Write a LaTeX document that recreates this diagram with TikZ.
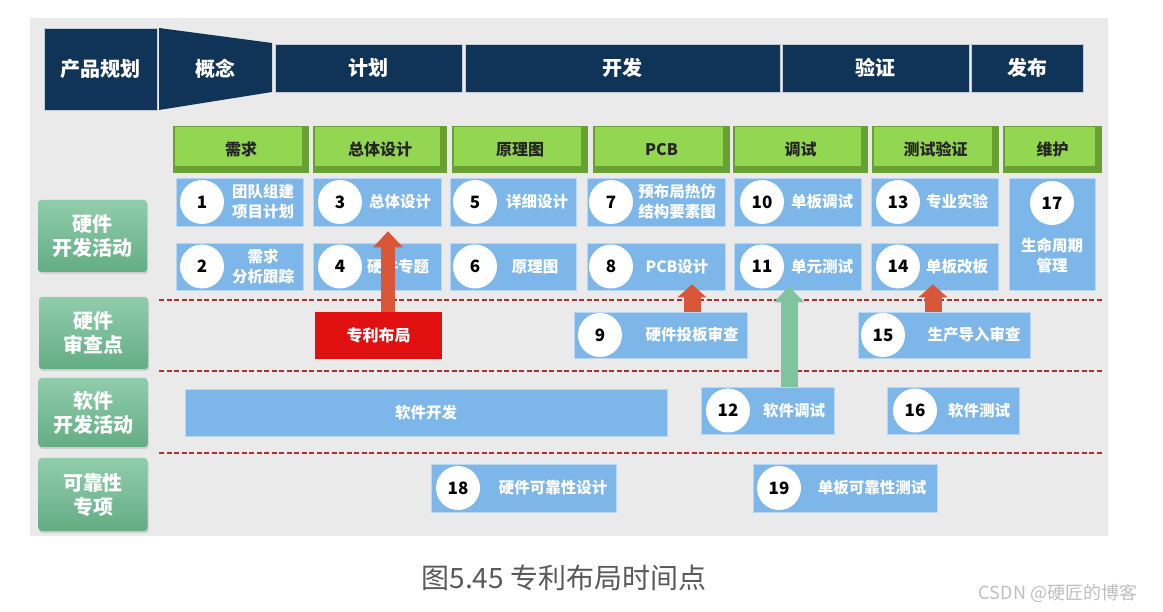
\documentclass[tikz,border=0pt]{standalone}
\usepackage{fontspec}
\setmainfont{Noto Sans CJK SC}
\usetikzlibrary{arrows.meta,shadows}
\definecolor{navy}{RGB}{16,52,87}
\definecolor{bgpanel}{RGB}{234,234,234}
\definecolor{gdark}{RGB}{104,160,50}
\definecolor{glight}{RGB}{146,214,82}
\definecolor{bluebox}{RGB}{125,183,234}
\definecolor{labgreen}{RGB}{108,188,144}
\definecolor{redbox}{RGB}{224,16,16}
\definecolor{arrred}{RGB}{217,86,56}
\definecolor{arrgreen}{RGB}{128,196,158}
\definecolor{dashred}{RGB}{176,48,48}
\begin{document}
\begin{tikzpicture}[x=1pt,y=-1pt,
  navybox/.style={fill=navy, draw=white!75!navy, line width=0.8pt, text=white,
    font=\bfseries\fontsize{20}{24}\selectfont, inner sep=0pt},
  navytext/.style={text=white, font=\bfseries\fontsize{20}{24}\selectfont, inner sep=0pt},
  phasebox/.style={fill=gdark, inner sep=0pt, text=black!85,
    font=\bfseries\fontsize{16}{19}\selectfont,
    path picture={\fill[glight] ([shift={(2pt,-1pt)}]path picture bounding box.north west)
      rectangle ([shift={(-7pt,7pt)}]path picture bounding box.south east);}},
  actbox/.style={fill=bluebox, draw=bluebox!55!white, line width=0.7pt, inner sep=0pt},
  numc/.style={circle, fill=white, minimum size=44pt, inner sep=0pt, text=black,
    font=\bfseries\fontsize{17}{20}\selectfont},
  acttext/.style={text=white, font=\bfseries\fontsize{15.5}{20}\selectfont, align=center, inner sep=0pt},
  sidelab/.style={rounded corners=3pt, top color=labgreen!75!white, bottom color=labgreen!92!black,
    text=white, font=\bfseries\fontsize{20}{24}\selectfont, align=center, inner sep=0pt,
    minimum width=109pt, minimum height=72pt,
    drop shadow={opacity=0.25, shadow xshift=1pt, shadow yshift=-2pt}},
  redarrbig/.style={draw=arrred, line width=14pt, -{Triangle[width=30pt,length=16pt,line width=0pt]}},
  redarrsmall/.style={draw=arrred, line width=17pt, -{Triangle[width=29pt,length=13pt,line width=0pt]}},
  greenarr/.style={draw=arrgreen, line width=17pt, -{Triangle[width=30pt,length=16pt,line width=0pt]}},
  dashline/.style={draw=dashred, line width=1.6pt, dash pattern=on 5pt off 2.5pt}
]
\useasboundingbox (0,0) rectangle (1163,612);
\fill[white] (0,0) rectangle (1163,612);
\fill[bgpanel] (30,18) rectangle (1108,536);

% ---- header row
\node[navybox, minimum width=113pt, minimum height=82pt] (hp) at (100.5,69) {产品规划};
\fill[navy] (159,28) -- (272,43) -- (272,92) -- (159,110) -- cycle;
\node[navytext] (hc) at (215.5,69) {概念};
\node[navybox, minimum width=187pt, minimum height=48pt] (hj) at (368.5,68) {计划};
\node[navybox, minimum width=315pt, minimum height=48pt] (hk) at (622.5,68) {开发};
\node[navybox, minimum width=187pt, minimum height=48pt] (hy) at (875.5,68) {验证};
\node[navybox, minimum width=112pt, minimum height=48pt] (hf) at (1027,68) {发布};

% ---- phase row
\node[phasebox, minimum width=136pt, minimum height=47pt] (p1) at (241,149.5) {需求};
\node[phasebox, minimum width=134pt, minimum height=47pt] (p2) at (380,149.5) {总体设计};
\node[phasebox, minimum width=136pt, minimum height=47pt] (p3) at (520,149.5) {原理图};
\node[phasebox, minimum width=137pt, minimum height=47pt] (p4) at (661.5,149.5) {PCB};
\node[phasebox, minimum width=135pt, minimum height=47pt] (p5) at (800.5,149.5) {调试};
\node[phasebox, minimum width=127pt, minimum height=47pt] (p6) at (935.5,149.5) {测试验证};
\node[phasebox, minimum width=99pt, minimum height=47pt] (p7) at (1052.5,149.5) {维护};

% ---- side labels
\node[sidelab] (l1) at (92.5,236) {硬件\\开发活动};
\node[sidelab] (l2) at (93.5,333) {硬件\\审查点};
\node[sidelab, minimum height=69pt] (l3) at (93,412.5) {软件\\开发活动};
\node[sidelab, minimum height=73pt] (l4) at (93,494.5) {可靠性\\专项};

% ---- dashed separators
\draw[dashline] (159,300) -- (1102,300);
\draw[dashline] (159,371) -- (1102,371);
\draw[dashline] (159,453) -- (1102,453);

% ---- hardware activities, row 1
\node[actbox, minimum width=127pt, minimum height=48pt] (a1) at (239.5,202) {};
\node[numc] (c1) at (202,202) {1};
\node[acttext] (t1) at (263,202) {团队组建\\项目计划};
\node[actbox, minimum width=128pt, minimum height=48pt] (a3) at (377,202) {};
\node[numc] (c3) at (340,202) {3};
\node[acttext] (t3) at (400,202) {总体设计};
\node[actbox, minimum width=126pt, minimum height=48pt] (a5) at (513,202) {};
\node[numc] (c5) at (475,202) {5};
\node[acttext] (t5) at (537,202) {详细设计};
\node[actbox, minimum width=138pt, minimum height=48pt] (a7) at (656,202) {};
\node[numc] (c7) at (611,202) {7};
\node[acttext] (t7) at (677,202) {预布局热仿\\结构要素图};
\node[actbox, minimum width=127pt, minimum height=48pt] (a10) at (797.5,202) {};
\node[numc] (c10) at (762,202) {10};
\node[acttext] (t10) at (822,202) {单板调试};
\node[actbox, minimum width=127pt, minimum height=48pt] (a13) at (934.5,202) {};
\node[numc] (c13) at (898,202) {13};
\node[acttext] (t13) at (957,202) {专业实验};
\node[actbox, minimum width=86pt, minimum height=112pt] (a17) at (1052,234) {};
\node[numc] (c17) at (1052,203) {17};
\node[acttext] (t17) at (1052,255) {生命周期\\管理};

% ---- hardware activities, row 2
\node[actbox, minimum width=127pt, minimum height=47pt] (a2) at (239.5,266.5) {};
\node[numc] (c2) at (202,266.5) {2};
\node[acttext] (t2) at (263,266.5) {需求\\分析跟踪};
\node[actbox, minimum width=128pt, minimum height=47pt] (a4) at (377,266.5) {};
\node[numc] (c4) at (340,266.5) {4};
\node[acttext] (t4) at (398,266.5) {硬件专题};
\node[actbox, minimum width=126pt, minimum height=47pt] (a6) at (513,266.5) {};
\node[numc] (c6) at (475,266.5) {6};
\node[acttext] (t6) at (535,266.5) {原理图};
\node[actbox, minimum width=138pt, minimum height=47pt] (a8) at (656,266.5) {};
\node[numc] (c8) at (611,266.5) {8};
\node[acttext] (t8) at (677,266.5) {PCB设计};
\node[actbox, minimum width=127pt, minimum height=47pt] (a11) at (797.5,266.5) {};
\node[numc] (c11) at (762,266.5) {11};
\node[acttext] (t11) at (822,266.5) {单元测试};
\node[actbox, minimum width=127pt, minimum height=47pt] (a14) at (934.5,266.5) {};
\node[numc] (c14) at (898,266.5) {14};
\node[acttext] (t14) at (957,266.5) {单板改板};

% ---- review points
\node[fill=redbox, minimum width=127pt, minimum height=47pt, inner sep=0pt, text=white,
  font=\bfseries\fontsize{16}{19}\selectfont] (patent) at (378.5,335.5) {专利布局};
\node[actbox, minimum width=173pt, minimum height=46pt] (r9) at (660.5,335) {};
\node[numc] (c9) at (600,335) {9};
\node[acttext] (t9) at (692,335) {硬件投板审查};
\node[actbox, minimum width=172pt, minimum height=46pt] (r15) at (944,335) {};
\node[numc] (c15) at (883,335) {15};
\node[acttext] (t15) at (974,335) {生产导入审查};

% ---- software
\node[actbox, minimum width=482pt, minimum height=47pt] (sdev) at (426,412.5) {};
\node[acttext] (tsdev) at (426,412.5) {软件开发};
\node[actbox, minimum width=133pt, minimum height=47pt] (s12) at (767.5,410.5) {};
\node[numc] (c12) at (728,410.5) {12};
\node[acttext] (t12) at (794,410.5) {软件调试};
\node[actbox, minimum width=132pt, minimum height=47pt] (s16) at (953,410.5) {};
\node[numc] (c16) at (915,410.5) {16};
\node[acttext] (t16) at (979,410.5) {软件测试};

% ---- reliability
\node[actbox, minimum width=185pt, minimum height=48pt] (r18) at (523.5,488) {};
\node[numc] (c18) at (458,488) {18};
\node[acttext] (t18) at (553,488) {硬件可靠性设计};
\node[actbox, minimum width=184pt, minimum height=48pt] (r19) at (845,488) {};
\node[numc] (c19) at (779,488) {19};
\node[acttext] (t19) at (872,488) {单板可靠性测试};

% ---- arrows
\draw[redarrbig] ([xshift=9.5pt]patent.north) -- ([xshift=11pt,yshift=-5pt]a3.south);
\draw[redarrsmall] ([xshift=31.5pt]r9.north) -- ([xshift=36pt,yshift=6pt]a8.south);
\draw[greenarr] ([xshift=21.5pt]s12.north) -- ([xshift=-8.5pt,yshift=4pt]a11.south);
\draw[redarrsmall] ([xshift=-11pt]r15.north) -- ([xshift=-1.5pt,yshift=6pt]a14.south);

% ---- caption and watermark
\node[text=black!65, font=\fontsize{28}{32}\selectfont, inner sep=0pt] (cap) at (564,578) {图5.45 专利布局时间点};
\node[text=black!25, font=\fontsize{18}{22}\selectfont, inner sep=0pt] (wm) at (1058,593) {CSDN @硬匠的博客};
\end{tikzpicture}
\end{document}
